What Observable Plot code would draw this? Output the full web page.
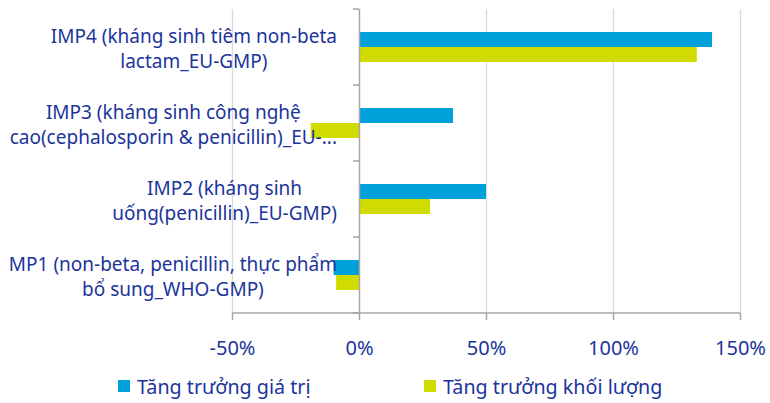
<!DOCTYPE html>
<html><head><meta charset="utf-8">
<script src="https://cdn.jsdelivr.net/npm/d3@7"></script>
<script src="https://cdn.jsdelivr.net/npm/@observablehq/plot@0.6"></script>
<style>
body{margin:0;background:#fff;font-family:"Noto Sans",sans-serif;}
#wrap{position:relative;width:770px;height:403px;overflow:hidden;}
.legend{position:absolute;top:374px;left:0;width:770px;height:24px;font-size:19.7px;color:#1c349b;}
.item{position:absolute;top:0;height:24px;display:flex;align-items:center;white-space:nowrap;}
.sw{width:12px;height:12px;margin-right:7px;}
</style></head><body>
<div id="wrap"><div id="chart"></div><div class="legend" id="legend"></div></div>
<script>
const categories = [
  "IMP4 (kháng sinh tiêm non-beta\nlactam_EU-GMP)",
  "IMP3 (kháng sinh công nghệ\ncao(cephalosporin & penicillin)_EU-...",
  "IMP2 (kháng sinh\nuống(penicillin)_EU-GMP)",
  "MP1 (non-beta, penicillin, thực phẩm\nbổ sung_WHO-GMP)"
];
const seriesNames = ["Tăng trưởng giá trị", "Tăng trưởng khối lượng"];
const valueGrowth = [139, 37, 50, -10];
const volumeGrowth = [133, -19, 28, -9];
const xTicks = [-50, 0, 50, 100, 150];
const colors = ["#00a0da", "#d0dc00"];

const textColor = "#1c349b";
const axisGray = "#a6a6a6";
const rowsValue = categories.map((c, i) => ({cat: c, v: valueGrowth[i]}));
const rowsVolume = categories.map((c, i) => ({cat: c, v: volumeGrowth[i]}));

function frameTicks(index, scales, values, dims) {
  const g = d3.create("svg:g").attr("stroke", axisGray).attr("stroke-width", 1.5).attr("fill", "none");
  const y = scales.y, x = scales.x;
  const bw = y.bandwidth ? y.bandwidth() : (dims.height - dims.marginTop - dims.marginBottom) / categories.length;
  const bounds = categories.map(c => y(c));
  bounds.push(y(categories[categories.length - 1]) + bw);
  const x0 = x(0);
  for (const b of bounds) g.append("line").attr("x1", x0 - 6).attr("x2", x0).attr("y1", b).attr("y2", b);
  const yb = dims.height - dims.marginBottom;
  g.append("line").attr("x1", x(xTicks[0])).attr("x2", x(xTicks[xTicks.length - 1])).attr("y1", yb).attr("y2", yb);
  return g.node();
}

const plot = Plot.plot({
  width: 770, height: 372,
  marginLeft: 232, marginRight: 30, marginTop: 9, marginBottom: 59,
  style: {fontFamily: "Noto Sans", fontSize: "19px", color: textColor, background: "white", overflow: "visible"},
  x: {domain: [xTicks[0], xTicks[xTicks.length - 1]], label: null},
  y: {domain: categories, padding: 0, label: null},
  marks: [
    Plot.gridX(xTicks.filter(d => d !== 0), {stroke: "#d9d9d9", strokeOpacity: 1, strokeWidth: 1.3}),
    Plot.barX(rowsValue, {y: "cat", x: "v", fill: colors[0], insetTop: 23, insetBottom: 38}),
    Plot.barX(rowsVolume, {y: "cat", x: "v", fill: colors[1], insetTop: 38, insetBottom: 23}),
    Plot.ruleX([0], {stroke: axisGray, strokeWidth: 1.5}),
    frameTicks,
    Plot.axisX({ticks: xTicks, tickFormat: d => d + "%", tickSize: 7, tickPadding: 20, stroke: axisGray, strokeWidth: 1.5, fill: textColor, fontSize: 20, label: null}),
    Plot.axisY({tickSize: 0, tickPadding: 20, textAnchor: "middle", lineHeight: 1.33, fill: textColor, fontSize: 19, label: null})
  ]
});
document.getElementById("chart").appendChild(plot);

// right-align each centered label block
const svgRect = plot.getBoundingClientRect();
const rightEdge = 337;
plot.querySelectorAll('g[aria-label="y-axis tick label"] text').forEach(t => {
  const r = t.getBoundingClientRect();
  const dx = rightEdge - (r.right - svgRect.left);
  t.setAttribute("transform", `translate(${dx},0) ` + (t.getAttribute("transform") || ""));
});

const legend = document.getElementById("legend");
const legendLeft = [118, 424];
seriesNames.forEach((name, i) => {
  const it = document.createElement("div");
  it.className = "item";
  it.style.left = legendLeft[i] + "px";
  it.innerHTML = `<span class="sw" style="background:${colors[i]}"></span><span>${name}</span>`;
  legend.appendChild(it);
});
</script>
</body></html>
